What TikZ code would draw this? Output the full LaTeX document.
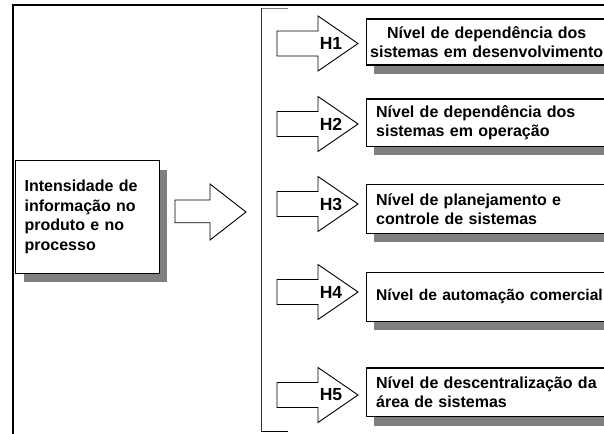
\documentclass[tikz,border=0pt]{standalone}
\usepackage{fontspec}
\setmainfont{Liberation Sans}
\usetikzlibrary{shadows}
\definecolor{shadowgray}{RGB}{128,128,128}
\newcommand\hArrow[3]{%
  \draw[blockarrow] (277,#1-12.5) -- (318,#1-12.5) -- (318,#1-27.5) -- (358,#1)
    -- (318,#1+27.5) -- (318,#1+12.5) -- (277,#1+12.5) -- cycle;
  \node[hlabel] (#3) at (331,#1) {#2};}
\begin{document}
\begin{tikzpicture}[x=1pt,y=-1pt,
  hlabel/.style={font=\fontsize{17.5}{20}\selectfont\bfseries, inner sep=0pt},
  shbox/.style={draw=black, line width=1.3pt, fill=white, anchor=north west,
    drop shadow={shadow xshift=8pt, shadow yshift=-9pt, fill=shadowgray, opacity=1},
    font=\fontsize{16}{19.5}\selectfont\bfseries},
  blockarrow/.style={draw=black, line width=0.9pt, fill=white, line join=miter}]
\useasboundingbox (0,0) rectangle (604,433);
\clip (0,0) rectangle (604,433);
% outer frame
\draw[line width=2pt] (13,440) -- (13,5.5) -- (620,5.5);
% bracket
\coordinate (bt) at (261.5,8.5);
\coordinate (bb) at (261.5,431.5);
\draw[line width=1.1pt, color=black!80] (bt) -- (bb);
\draw[line width=1.1pt, shadowgray] (bt) -- ++(26,0);
\draw[line width=1.1pt] (bb) -- ++(26,0);
% source box
\node[shbox, minimum width=143.5pt, minimum height=112.7pt, text width=125.5pt,
  inner xsep=9pt, align=left] (src) at (15,160)
  {Intensidade de\\informação no\\produto e no\\processo};
% big arrow
\draw[blockarrow] (175,200) -- (210,200) -- (210,184) -- (246,212) -- (210,240)
  -- (210,222.7) -- (175,222.7) -- cycle;
% small arrows
\hArrow{43.5}{H1}{h1}
\hArrow{124}{H2}{h2}
\hArrow{204}{H3}{h3}
\hArrow{292}{H4}{h4}
\hArrow{395}{H5}{h5}
% target boxes
\node[shbox, minimum width=241pt, minimum height=46pt, text width=238pt,
  inner xsep=1.5pt, align=center] (b1) at (365.5,18.5)
  {Nível de dependência dos\\sistemas em desenvolvimento};
\node[shbox, minimum width=241pt, minimum height=47pt, text width=221pt,
  inner xsep=10pt, align=left] (b2) at (365.5,98.5)
  {Nível de dependência dos\\sistemas em operação};
\node[shbox, minimum width=241pt, minimum height=48.7pt, text width=221pt,
  inner xsep=10pt, align=left] (b3) at (365.5,184)
  {Nível de planejamento e\\controle de sistemas};
\node[shbox, minimum width=241pt, minimum height=49pt, text width=221pt,
  inner xsep=9.5pt, align=left] (b4) at (365.5,271.7)
  {\mbox{\fontsize{15.6}{19.5}\selectfont Nível de automação comercial}};
\node[shbox, minimum width=241pt, minimum height=48.7pt, text width=221pt,
  inner xsep=10pt, align=left] (b5) at (365.5,367.3)
  {Nível de descentralização da\\área de sistemas};
\end{tikzpicture}
\end{document}
